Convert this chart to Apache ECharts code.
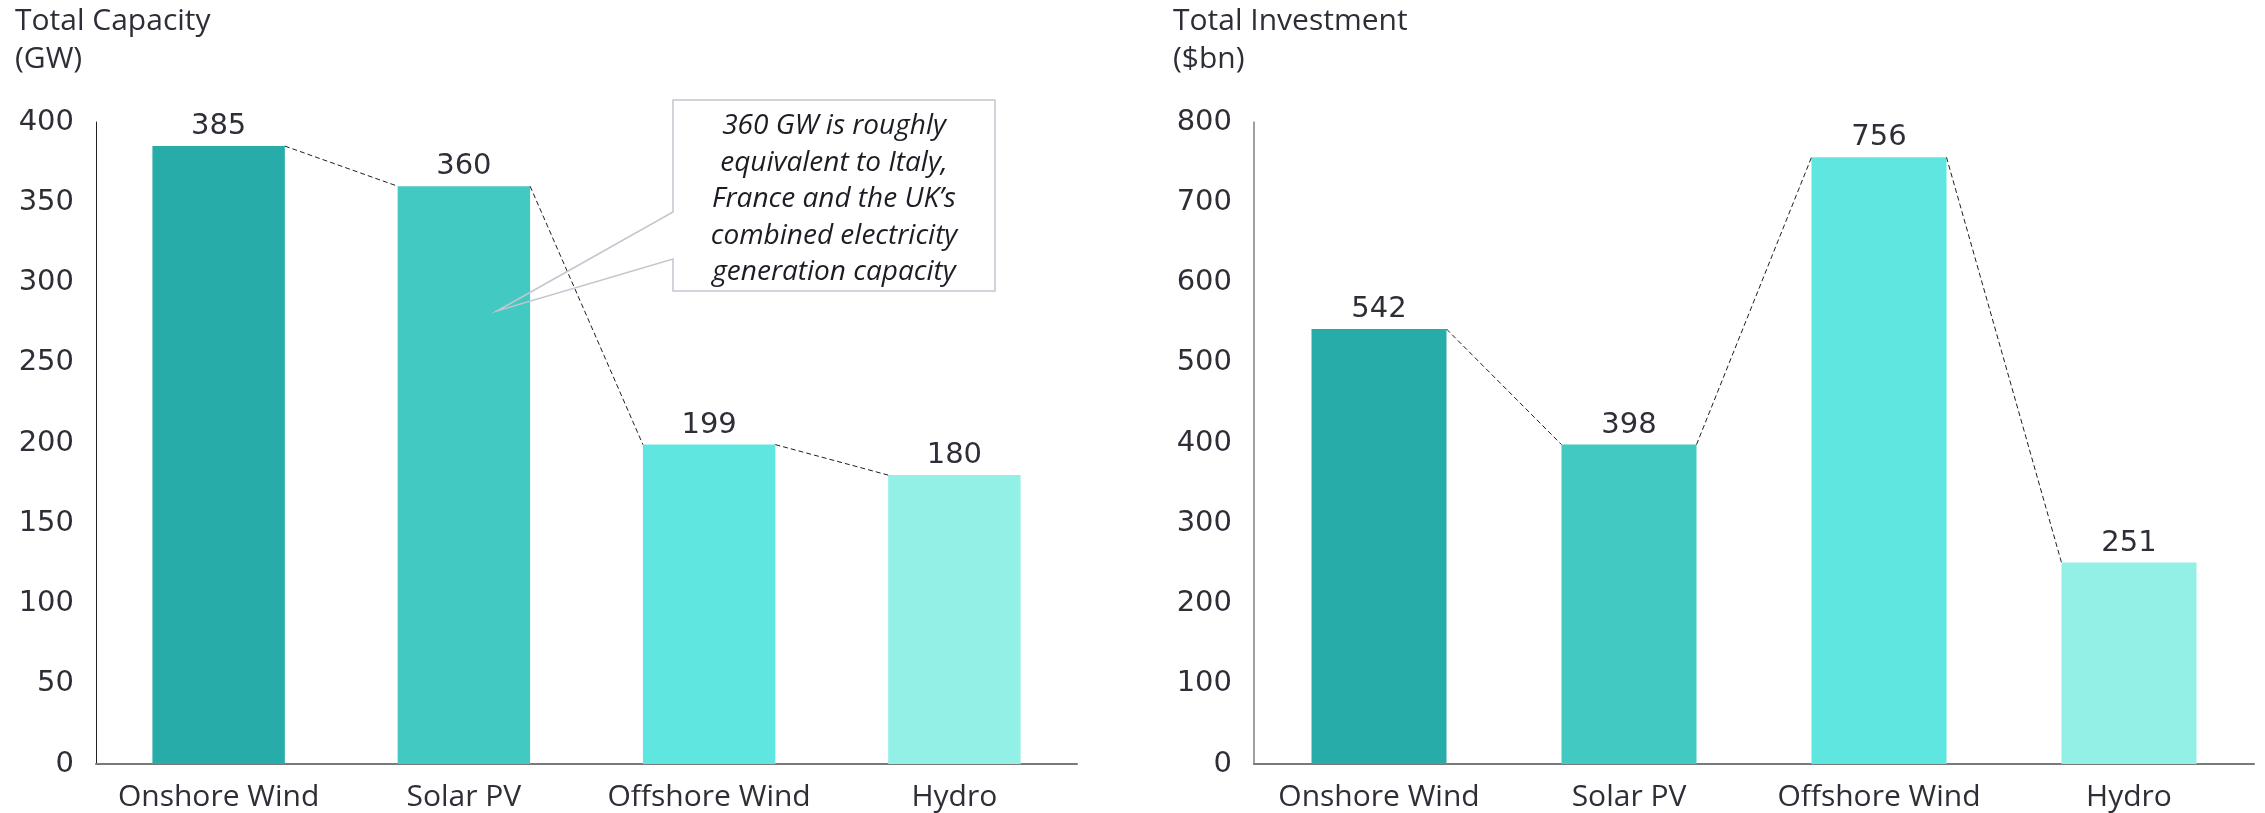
<!DOCTYPE html>
<html>
<head>
<meta charset="utf-8">
<script src="https://cdn.jsdelivr.net/npm/echarts@6/dist/echarts.min.js"></script>
<style>
  html, body { margin: 0; padding: 0; background: #ffffff; }
  #chart { width: 2265px; height: 813px; }
</style>
</head>
<body>
<div id="chart"></div>
<script>
// ---- Data ----
const categories = ['Onshore Wind', 'Solar PV', 'Offshore Wind', 'Hydro'];
const capacityGW = [385, 360, 199, 180];
const investmentBn = [542, 398, 756, 251];
const barColors = ['#27acaa', '#42c9c2', '#60e6e1', '#93f0e6'];
const capacityTicks = { min: 0, max: 400, interval: 50 };
const investmentTicks = { min: 0, max: 800, interval: 100 };
const leftTitle = 'Total Capacity\n(GW)';
const rightTitle = 'Total Investment\n($bn)';
const calloutLines = [
  '360 GW is roughly',
  'equivalent to Italy,',
  'France and the UK\u2019s',
  'combined electricity',
  'generation capacity'
];

// ---- Style ----
const FONT = 'Open Sans';
const NUMFONT = 'DejaVu Sans';
const TEXT = '#2e2e38';
const FS = 30;
const NFS = 29;
const BAR_FRAC = 0.54;

function connectorData(values) {
  const out = [];
  for (let i = 0; i < values.length - 1; i++) {
    out.push([i, values[i], i + 1, values[i + 1]]);
  }
  return out;
}

function connectorRender(params, api) {
  const i0 = api.value(0), v0 = api.value(1), i1 = api.value(2), v1 = api.value(3);
  const p0 = api.coord([i0, v0]);
  const p1 = api.coord([i1, v1]);
  const band = api.size([1, 0])[0];
  const half = band * BAR_FRAC / 2;
  return {
    type: 'line',
    shape: { x1: p0[0] + half, y1: p0[1], x2: p1[0] - half, y2: p1[1] },
    style: { stroke: '#1e1e1e', lineWidth: 1, lineDash: [5, 3] },
    silent: true
  };
}

function barData(values) {
  return values.map((v, i) => ({ value: v, itemStyle: { color: barColors[i] } }));
}

const chart = echarts.init(document.getElementById('chart'), null, { renderer: 'canvas' });

const xAxisCommon = {
  type: 'category',
  data: categories,
  axisTick: { show: false },
  axisLine: { lineStyle: { color: '#7a7a7a', width: 2 } },
  axisLabel: { interval: 0, color: TEXT, fontFamily: FONT, fontSize: FS, margin: 18 }
};
const yAxisCommon = {
  type: 'value',
  splitLine: { show: false },
  axisTick: { show: false },
  axisLabel: { color: TEXT, fontFamily: NUMFONT, fontSize: NFS, margin: 22, padding: [5, 0, 0, 0] }
};
const valueLabel = { show: true, position: 'top', distance: 5, color: TEXT, fontFamily: NUMFONT, fontSize: NFS };

chart.setOption({
  animation: false,
  textStyle: { fontFamily: FONT },
  grid: [
    { left: 96, right: 2265 - 1077, top: 122, bottom: 49 },
    { left: 1254, right: 11, top: 122, bottom: 49 }
  ],
  xAxis: [
    Object.assign({ gridIndex: 0 }, xAxisCommon),
    Object.assign({ gridIndex: 1 }, xAxisCommon)
  ],
  yAxis: [
    Object.assign({ gridIndex: 0 }, yAxisCommon, capacityTicks,
      { axisLine: { show: true, lineStyle: { color: '#222222', width: 1 } } }),
    Object.assign({ gridIndex: 1 }, yAxisCommon, investmentTicks,
      { axisLine: { show: true, lineStyle: { color: '#808080', width: 1.5 } } })
  ],
  series: [
    {
      type: 'bar', xAxisIndex: 0, yAxisIndex: 0,
      barWidth: (BAR_FRAC * 100) + '%',
      data: barData(capacityGW),
      label: valueLabel
    },
    {
      type: 'bar', xAxisIndex: 1, yAxisIndex: 1,
      barWidth: (BAR_FRAC * 100) + '%',
      data: barData(investmentBn),
      label: valueLabel
    },
    {
      type: 'custom', xAxisIndex: 0, yAxisIndex: 0,
      renderItem: connectorRender,
      encode: { x: 0, y: 1 },
      data: connectorData(capacityGW),
      z: 5
    },
    {
      type: 'custom', xAxisIndex: 1, yAxisIndex: 1,
      renderItem: connectorRender,
      encode: { x: 0, y: 1 },
      data: connectorData(investmentBn),
      z: 5
    }
  ],
  graphic: [
    {
      type: 'text', left: 15, top: 2,
      style: { text: leftTitle, fill: TEXT, font: FS + 'px "' + FONT + '"', lineHeight: 38 }
    },
    {
      type: 'text', left: 1173, top: 2,
      style: { text: rightTitle, fill: TEXT, font: FS + 'px "' + FONT + '"', lineHeight: 38 }
    },
    {
      type: 'polygon',
      shape: { points: [[673, 100], [995, 100], [995, 291], [673, 291], [673, 259], [497, 311], [673, 212]] },
      style: { fill: 'rgba(255,255,255,0)', stroke: '#c5c5cf', lineWidth: 1.5 },
      z: 10
    },
    {
      type: 'text', x: 834, y: 108,
      style: {
        text: calloutLines.join('\n'),
        fill: '#1c1c24',
        font: 'italic 28px "' + FONT + '"',
        lineHeight: 36.5,
        align: 'center',
        verticalAlign: 'top'
      },
      z: 11
    }
  ]
});
</script>
</body>
</html>
